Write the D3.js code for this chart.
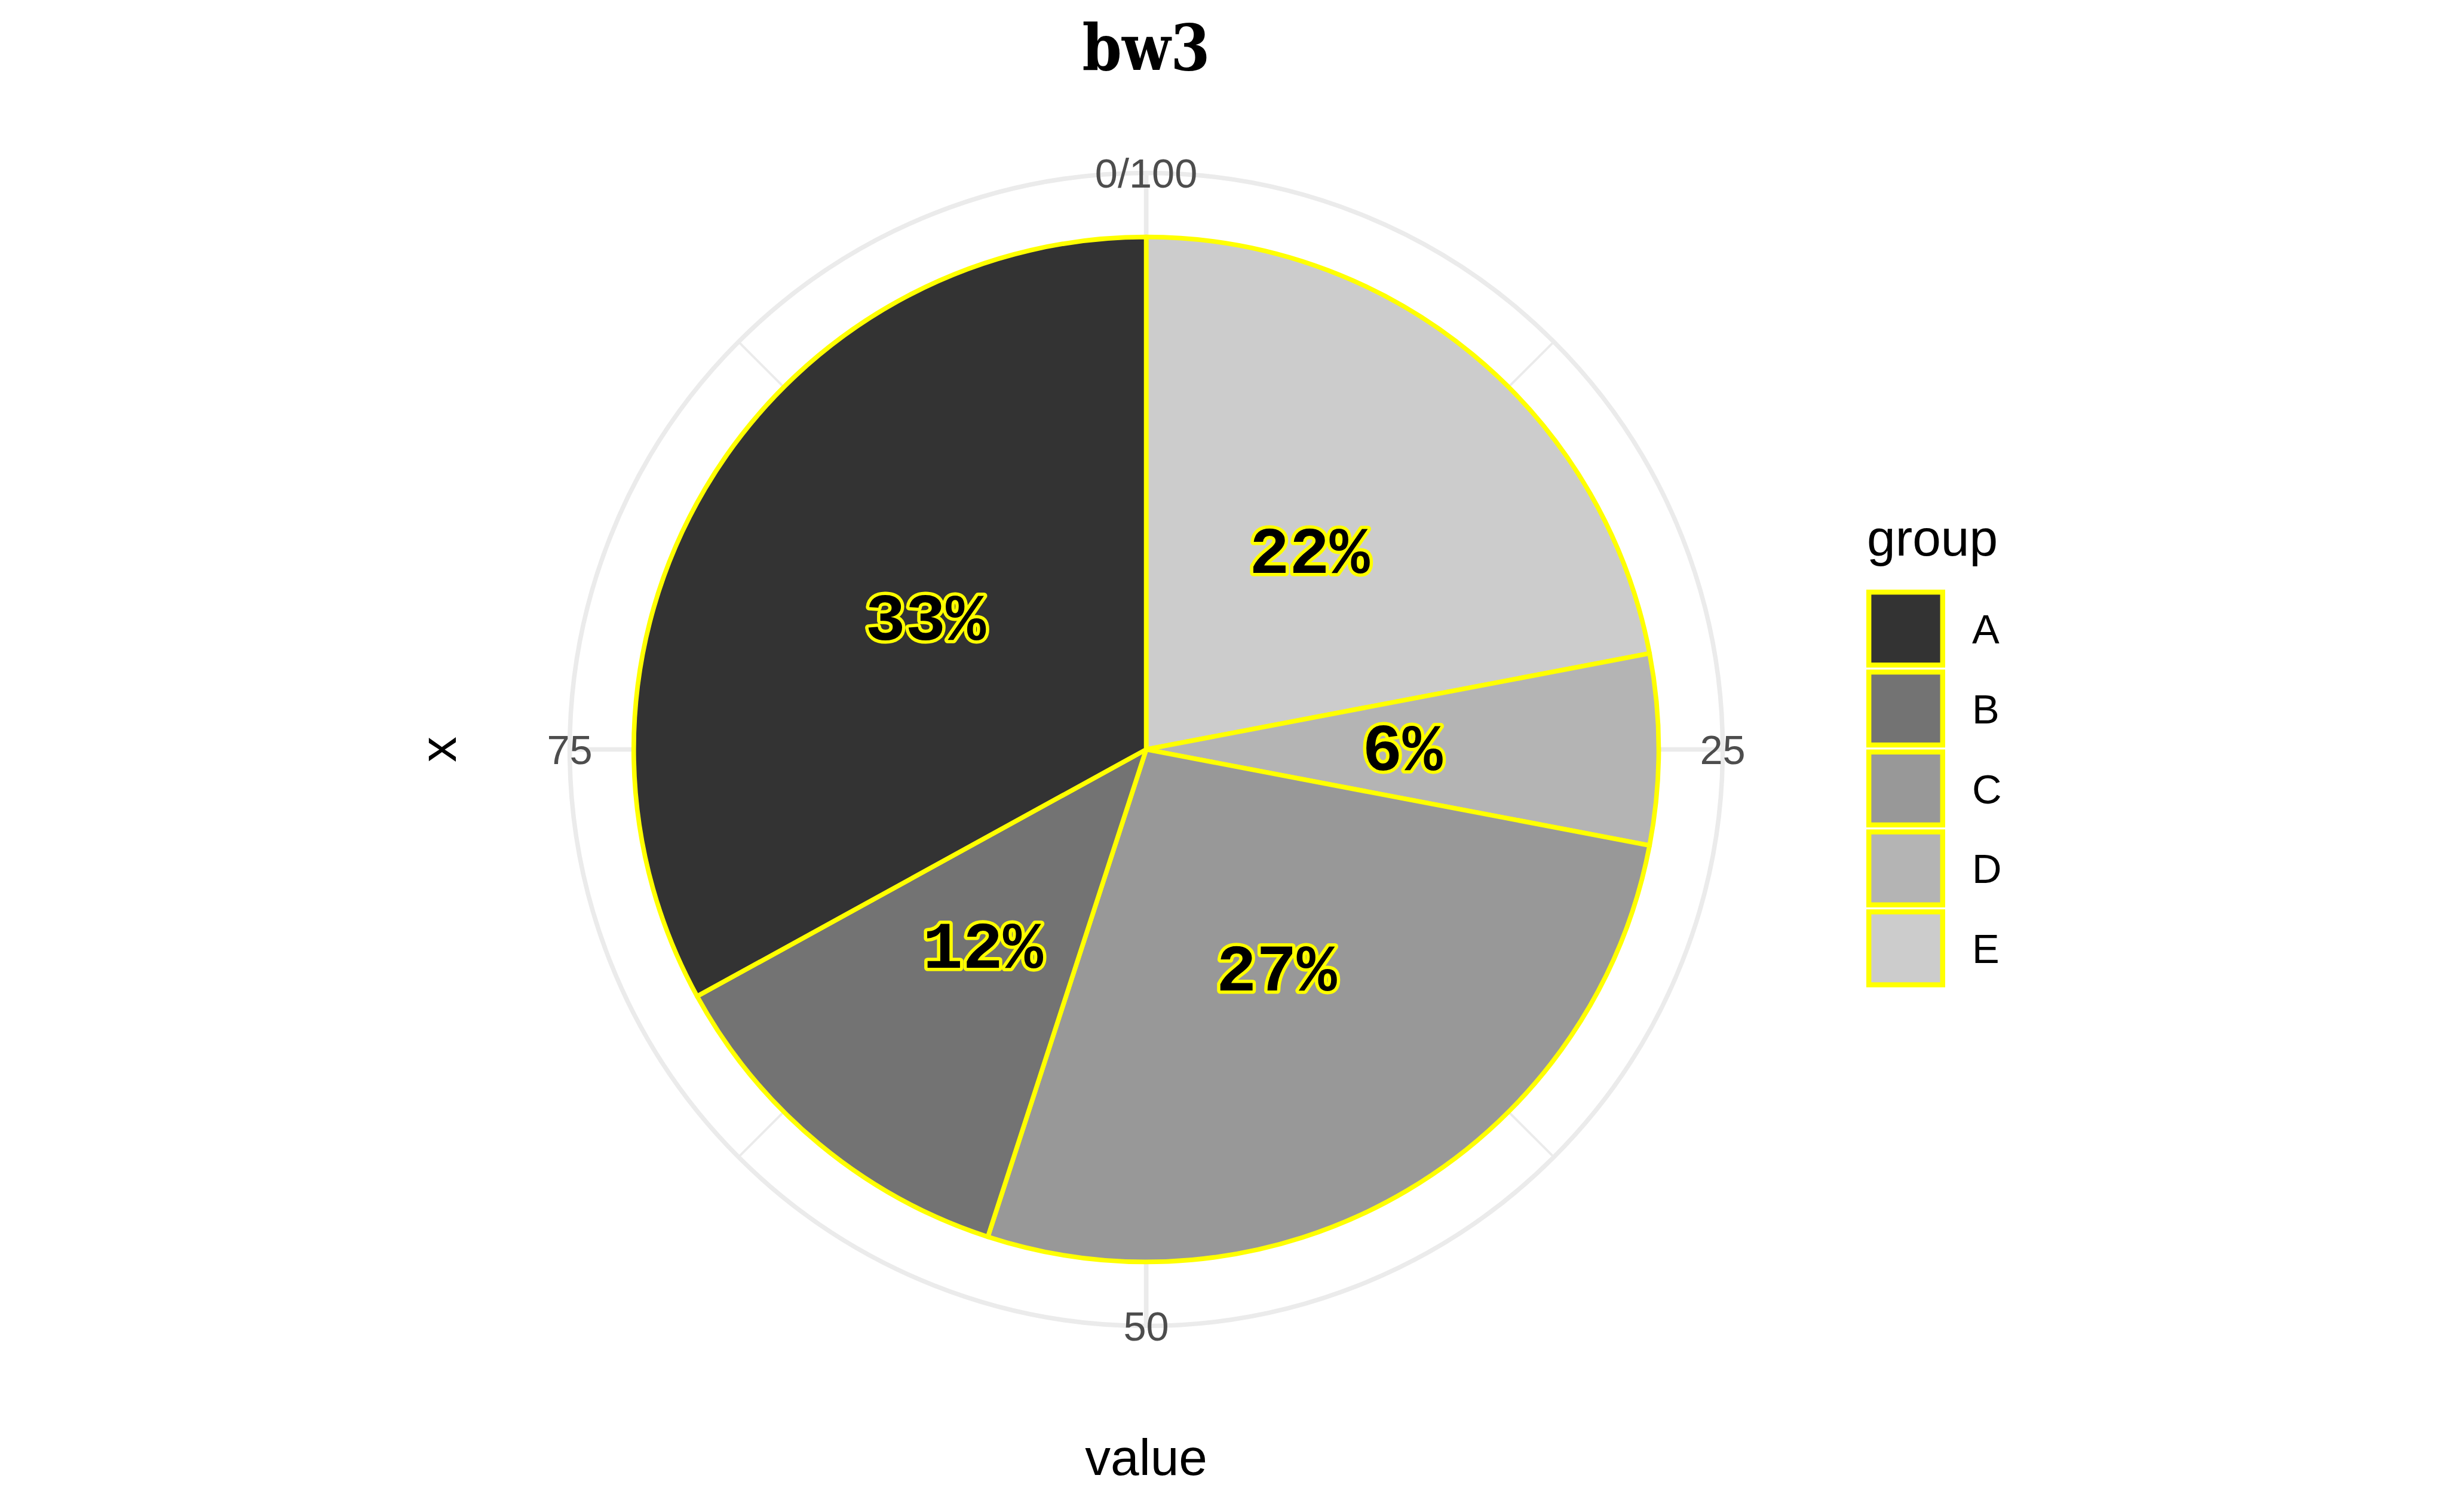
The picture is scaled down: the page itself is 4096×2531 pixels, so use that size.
<!DOCTYPE html>
<html>
<head>
<meta charset="utf-8">
<script src="https://cdn.jsdelivr.net/npm/d3@7"></script>
<style>
  html, body { margin: 0; padding: 0; background: #ffffff; }
  svg { display: block; }
</style>
</head>
<body>
<script>
// ---- data ----
const categories = ["A", "B", "C", "D", "E"];
const values = [33, 12, 27, 6, 22];
const fills = ["#333333", "#737373", "#989898", "#B4B4B4", "#CCCCCC"];
const majorTicks = [0, 25, 50, 75];
const tickLabels = ["0/100", "25", "50", "75"];
const minorTicks = [12.5, 37.5, 62.5, 87.5];
const titleText = "bw3";
const legendTitle = "group";
const xTitle = "value";
const yTitle = "x";

// ---- layout ----
const W = 4096, H = 2531;
const cx = 1918.6, cy = 1254.5;
const R = 857.8;          // pie radius
const Rgrid = 965;        // outer grid circle

const svg = d3.select("body").append("svg")
  .attr("width", W).attr("height", H)
  .attr("viewBox", `0 0 ${W} ${H}`);
svg.append("rect").attr("width", W).attr("height", H).attr("fill", "#ffffff");

const theta = d3.scaleLinear().domain([0, 100]).range([0, 2 * Math.PI]);
const color = d3.scaleOrdinal().domain(categories).range(fills);
const total = d3.sum(values);

const px = (t, r) => cx + r * Math.sin(theta(t));
const py = (t, r) => cy - r * Math.cos(theta(t));

// ---- grid ----
const grid = svg.append("g");
grid.append("circle").attr("cx", cx).attr("cy", cy).attr("r", Rgrid)
  .attr("fill", "none").attr("stroke", "#EBEBEB").attr("stroke-width", 7.5);
grid.selectAll("line.minor").data(minorTicks).join("line")
  .attr("class", "minor")
  .attr("x1", cx).attr("y1", cy)
  .attr("x2", d => px(d, Rgrid)).attr("y2", d => py(d, Rgrid))
  .attr("stroke", "#EBEBEB").attr("stroke-width", 3.9);
grid.selectAll("line.major").data(majorTicks).join("line")
  .attr("class", "major")
  .attr("x1", cx).attr("y1", cy)
  .attr("x2", d => px(d, Rgrid)).attr("y2", d => py(d, Rgrid))
  .attr("stroke", "#EBEBEB").attr("stroke-width", 7.7);

// ---- stacked slices (last category at bottom, starting at 0) ----
const order = categories.map((c, i) => ({ cat: c, val: values[i] })).reverse();
let acc = 0;
order.forEach(d => { d.start = acc; acc += d.val; d.end = acc; });

const arc = d3.arc().innerRadius(0).outerRadius(R);
const slices = svg.append("g").attr("transform", `translate(${cx},${cy})`);
slices.selectAll("path").data(order).join("path")
  .attr("d", d => arc({ startAngle: theta(d.start), endAngle: theta(d.end) }))
  .attr("fill", d => color(d.cat))
  .attr("stroke", "#FFFF00")
  .attr("stroke-width", 7.7)
  .attr("stroke-linejoin", "round");

// ---- tick labels ----
svg.append("g").selectAll("text").data(majorTicks).join("text")
  .attr("x", d => px(d, Rgrid)).attr("y", d => py(d, Rgrid))
  .attr("dy", "0.36em")
  .attr("text-anchor", "middle")
  .attr("font-family", "'Liberation Sans', Arial, Helvetica, sans-serif")
  .attr("font-size", 68.6)
  .attr("fill", "#4D4D4D")
  .text((d, i) => tickLabels[i]);

// ---- slice labels ----
svg.append("g").selectAll("text").data(order).join("text")
  .attr("x", d => px((d.start + d.end) / 2, R / 2))
  .attr("y", d => py((d.start + d.end) / 2, R / 2))
  .attr("dy", "0.31em")
  .attr("text-anchor", "middle")
  .attr("font-family", "'Liberation Mono', 'Courier New', monospace")
  .attr("font-weight", "bold")
  .attr("font-size", 112)
  .attr("fill", "#000000")
  .attr("stroke", "#FFFF00")
  .attr("stroke-width", 11)
  .attr("stroke-linejoin", "round")
  .attr("paint-order", "stroke")
  .text(d => Math.round(d.val / total * 100) + "%");

// ---- title ----
svg.append("text")
  .attr("x", cx).attr("y", 117)
  .attr("text-anchor", "middle")
  .attr("font-family", "'DejaVu Serif', 'Courier New', serif")
  .attr("font-weight", "bold")
  .attr("font-size", 106)
  .attr("textLength", 214)
  .attr("lengthAdjust", "spacingAndGlyphs")
  .attr("fill", "#000000")
  .text(titleText);

// ---- axis titles ----
svg.append("text")
  .attr("x", cx).attr("y", 2469)
  .attr("text-anchor", "middle")
  .attr("font-family", "'Liberation Sans', Arial, Helvetica, sans-serif")
  .attr("font-size", 85.7)
  .attr("fill", "#000000")
  .text(xTitle);
svg.append("text")
  .attr("transform", `translate(763,${cy}) rotate(-90)`)
  .attr("text-anchor", "middle")
  .attr("font-family", "'Liberation Sans', Arial, Helvetica, sans-serif")
  .attr("font-size", 85.7)
  .attr("fill", "#000000")
  .text(yTitle);

// ---- legend ----
const lgX = 3124, lgTop = 987, keyW = 132, keyH = 130.5, pitch = 133.8, bw = 8.4;
const legend = svg.append("g");
legend.append("text")
  .attr("x", lgX + 1).attr("y", 930)
  .attr("font-family", "'Liberation Sans', Arial, Helvetica, sans-serif")
  .attr("font-size", 85.7)
  .attr("fill", "#000000")
  .text(legendTitle);
const items = legend.selectAll("g.item").data(categories).join("g")
  .attr("class", "item")
  .attr("transform", (d, i) => `translate(${lgX},${lgTop + i * pitch})`);
items.append("rect")
  .attr("x", bw / 2).attr("y", bw / 2)
  .attr("width", keyW - bw).attr("height", keyH - bw)
  .attr("fill", d => color(d))
  .attr("stroke", "#FFFF00").attr("stroke-width", bw);
items.append("text")
  .attr("x", 3301 - lgX).attr("y", keyH / 2)
  .attr("dy", "0.36em")
  .attr("font-family", "'Liberation Sans', Arial, Helvetica, sans-serif")
  .attr("font-size", 68.6)
  .attr("fill", "#000000")
  .text(d => d);
</script>
</body>
</html>
